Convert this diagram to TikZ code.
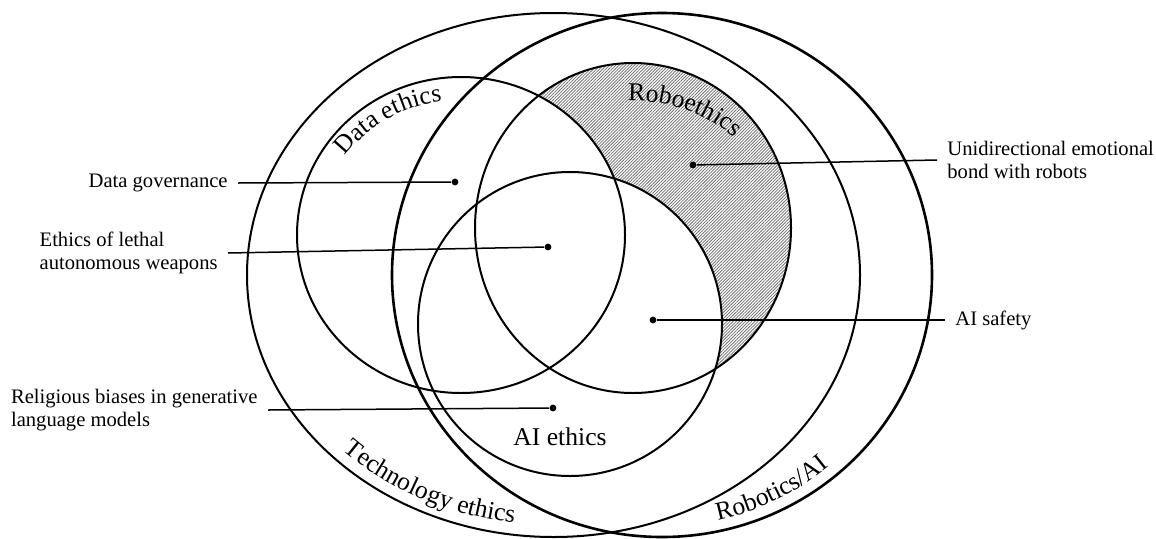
\documentclass[tikz,border=0pt]{standalone}
\usepackage{fontspec}
\setmainfont{Liberation Serif}
\usetikzlibrary{decorations.text,patterns.meta}
\newcommand\notefont{\fontsize{10.3}{11.6}\selectfont}
\newcommand\ringfont{\fontsize{12.8}{14}\selectfont}

\begin{document}
\begin{tikzpicture}[x=0.5pt,y=0.5pt,
    ring/.style={line width=1pt},
    note/.style={font=\notefont,align=left,inner xsep=5pt,inner ysep=1pt},
    spot/.style={circle,fill,inner sep=0pt,minimum size=3.4pt},
    lead/.style={line width=0.75pt},
    ringlabel/.style={decorate,decoration={text along path,text align=center,
      text={|\ringfont|#1}}}]
  \useasboundingbox (0,0) rectangle (1156,538);
  % hatched part of roboethics (outside data and AI ethics)
  \fill[pattern={Lines[angle=45,distance=1.1pt,line width=0.4pt]},pattern color=black!55]
    (633,310) ellipse [x radius=158,y radius=165];
  \fill[white] (461,303) ellipse [x radius=164,y radius=158];
  \fill[white] (570,214) circle [radius=152];
  % rings
  \draw[ring] (553.5,263) ellipse [x radius=306.5,y radius=262];
  \draw[ring,line width=1.3pt] (662,263) ellipse [x radius=270,y radius=262];
  \draw[ring] (461,303) ellipse [x radius=164,y radius=158];
  \draw[ring] (633,310) ellipse [x radius=158,y radius=165];
  \draw[ring] (570,214) circle [radius=152];
  % ring names
  \path[ringlabel=Data ethics] (461,303) ++(151:143 and 135)
    arc [start angle=151,end angle=91,x radius=143,y radius=135];
  \path[ringlabel=Roboethics] (633,310) ++(108:144 and 127)
    arc [start angle=108,end angle=28,x radius=144,y radius=127];
  \path[ringlabel=Technology ethics] (553.5,263) ++(213:296 and 250)
    arc [start angle=213,end angle=273,x radius=296,y radius=250];
  \path[ringlabel=Robotics/AI] (662,263) ++(-90:259 and 251)
    arc [start angle=-90,end angle=-37,x radius=259,y radius=251];
  \node[font=\ringfont,anchor=base] (aiethics) at (560,93) {AI ethics};
  % examples
  \node[spot] (dgov) at (455,356) {};
  \node[spot] (dlaw) at (548,291) {};
  \node[spot] (drel) at (553,130) {};
  \node[spot] (duni) at (693,373) {};
  \node[spot] (dsafe) at (653,218) {};
  \node[note,anchor=east] (gov) at (238,355) {Data governance};
  \node[note,anchor=east] (law) at (228,285) {Ethics of lethal\\autonomous weapons};
  \node[note,anchor=east] (rel) at (268,128) {Religious biases in generative\\language models};
  \node[note,anchor=west] (uni) at (937,378) {Unidirectional emotional\\bond with robots};
  \node[note,anchor=west] (safe) at (945,218) {AI safety};
  \draw[lead] (gov.east) -- (dgov);
  \draw[lead] (law.east) -- (dlaw);
  \draw[lead] (rel.east) -- (drel);
  \draw[lead] (duni) -- (uni.west);
  \draw[lead] (dsafe) -- (safe.west);
\end{tikzpicture}
\end{document}
